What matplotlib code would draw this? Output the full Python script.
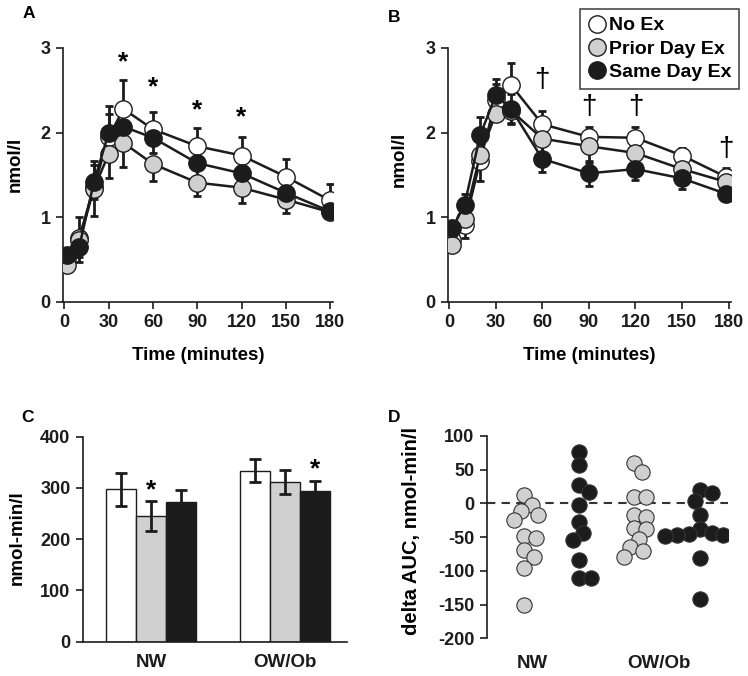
import numpy as np
import matplotlib
matplotlib.use('Agg')
import matplotlib.pyplot as plt
from matplotlib.lines import Line2D

plt.rcParams['font.family'] = ['Liberation Sans', 'DejaVu Sans']
plt.rcParams['font.weight'] = 'bold'
plt.rcParams['axes.labelweight'] = 'bold'
plt.rcParams['axes.unicode_minus'] = False

# ---- data ----
labels = ['No Ex', 'Prior Day Ex', 'Same Day Ex']

# panel A
t_a = [2, 10, 20, 30, 40, 60, 90, 120, 150, 180]
a_noex = [0.52, 0.76, 1.36, 1.95, 2.28, 2.04, 1.84, 1.73, 1.48, 1.20]
a_prior = [0.44, 0.73, 1.34, 1.75, 1.88, 1.63, 1.41, 1.35, 1.21, 1.06]
a_same = [0.55, 0.65, 1.42, 2.00, 2.07, 1.94, 1.64, 1.52, 1.29, 1.07]
a_noex_up = [0.05, 0.24, 0.30, 0.27, 0.34, 0.21, 0.21, 0.22, 0.21, 0.19]
a_prior_dn = [0.05, 0.20, 0.33, 0.29, 0.28, 0.20, 0.16, 0.18, 0.16, 0.06]
a_same_err = [0.05, 0.18, 0.20, 0.32, 0.20, 0.18, 0.16, 0.15, 0.13, 0.08]
a_star_t = [40, 60, 90, 120]
a_star_y = [2.83, 2.53, 2.26, 2.18]

# panel B
t_b = [2, 10, 20, 30, 40, 60, 90, 120, 150, 178]
b_noex = [0.73, 0.91, 1.67, 2.38, 2.56, 2.10, 1.95, 1.94, 1.73, 1.48]
b_prior = [0.67, 0.98, 1.74, 2.22, 2.26, 1.93, 1.84, 1.76, 1.57, 1.42]
b_same = [0.87, 1.15, 1.97, 2.44, 2.28, 1.69, 1.52, 1.57, 1.46, 1.28]
b_noex_up = [0.05, 0.13, 0.20, 0.20, 0.26, 0.16, 0.12, 0.13, 0.09, 0.10]
b_prior_dn = [0.05, 0.22, 0.31, 0.08, 0.15, 0.20, 0.20, 0.18, 0.15, 0.10]
b_same_err = [0.06, 0.13, 0.22, 0.19, 0.18, 0.15, 0.15, 0.13, 0.13, 0.08]
b_dag_t = [60, 90, 120, 178]
b_dag_y = [2.62, 2.30, 2.30, 1.81]

# panel C
groups = ['NW', 'OW/Ob']
c_noex = [297, 334]
c_prior = [245, 312]
c_same = [272, 294]
c_noex_se = [32, 22]
c_prior_se = [29, 24]
c_same_se = [24, 20]

# panel D (delta AUC)
nw_prior = [12, -2, -11, -17, -25, -49, -52, -69, -79, -96, -151]
nw_same = [77, 57, 27, 17, -2, -27, -44, -54, -84, -111, -111]
ow_prior = [60, 46, 10, 10, -17, -20, -37, -38, -53, -64, -70, -79]
ow_same = [20, 16, 4, -17, -38, -44, -45, -47, -47, -48, -81, -141]

INK = '#1c1c1c'
colors = ['#ffffff', '#d0d0d0', INK]
TICK = 13
LAB = 13.5

fig = plt.figure(figsize=(7.48, 6.76), dpi=100)
W, H = 748.0, 676.0


def rect(l, r, top, bot):
    return [l / W, 1 - bot / H, (r - l) / W, (bot - top) / H]


def style(ax):
    for s in ['top', 'right']:
        ax.spines[s].set_visible(False)
    for s in ['left', 'bottom']:
        ax.spines[s].set_linewidth(1.2)
        ax.spines[s].set_color(INK)
    ax.tick_params(direction='out', length=5, width=1.2, labelsize=TICK, pad=4, colors=INK)


def curve(ax, t, y, lo, hi, fc):
    ax.errorbar(t, y, yerr=[lo, hi], fmt='none', ecolor=INK, elinewidth=2,
                capsize=3, capthick=2, zorder=2)
    ax.plot(t, y, '-o', color=INK, lw=1.8, mfc=fc, mec=INK, mew=1, ms=12.5, zorder=3)


def time_panel(ax, t, series, errs, xlim):
    for y, (lo, hi), fc in zip(series, errs, colors):
        curve(ax, t, y, lo, hi, fc)
    ax.set_xlim(*xlim)
    ax.set_ylim(0, 3)
    ax.set_xticks([0, 30, 60, 90, 120, 150, 180])
    ax.set_yticks([0, 1, 2, 3])
    ax.set_xlabel('Time (minutes)', fontsize=LAB, labelpad=11)
    ax.set_ylabel('nmol/l', fontsize=LAB)
    style(ax)


z = np.zeros(10)

# A
ax_a = fig.add_axes(rect(63, 333, 48, 302))
time_panel(ax_a, t_a, [a_noex, a_prior, a_same],
           [(z, a_noex_up), (a_prior_dn, z), (a_same_err, a_same_err)], (-1, 182))
for tt, yy in zip(a_star_t, a_star_y):
    ax_a.text(tt, yy, '*', fontsize=19, ha='center', va='center')
ax_a.yaxis.set_label_coords(-0.145, 0.54)

# B
ax_b = fig.add_axes(rect(448.3, 731, 48, 302))
time_panel(ax_b, t_b, [b_noex, b_prior, b_same],
           [(z, b_noex_up), (b_prior_dn, z), (b_same_err, b_same_err)], (-0.5, 181.5))
for tt, yy in zip(b_dag_t, b_dag_y):
    ax_b.text(tt, yy, '\u2020', fontsize=20, fontweight='normal', ha='center', va='center')
ax_b.yaxis.set_label_coords(-0.142, 0.56)

handles = [Line2D([], [], ls='none', marker='o', ms=12.5, mfc=c, mec=INK, mew=1) for c in colors]
leg = ax_b.legend(handles, labels, loc='upper right', bbox_to_anchor=(739 / W, 1 - 9 / H),
                  bbox_transform=fig.transFigure, frameon=True, fancybox=False,
                  edgecolor=INK, fontsize=14, handletextpad=0.1, labelspacing=0.3,
                  borderpad=0.4, handlelength=1.0, borderaxespad=0)
leg.get_frame().set_linewidth(1.2)

# C
ax_c = fig.add_axes(rect(83, 347, 436.7, 641.7))
x = np.arange(len(groups))
bw = 0.224
for i, (vals, se, c) in enumerate(zip([c_noex, c_prior, c_same],
                                       [c_noex_se, c_prior_se, c_same_se], colors)):
    ax_c.bar(x + (i - 1) * bw, vals, bw, color=c, edgecolor=INK, lw=1, zorder=2)
    ax_c.errorbar(x + (i - 1) * bw, vals, yerr=se, fmt='none', ecolor=INK,
                  elinewidth=2, capsize=4.5, capthick=2, zorder=3)
ax_c.text(x[0], c_prior[0] + c_prior_se[0] + 22, '*', fontsize=19, ha='center', va='center')
ax_c.text(x[1] + bw, c_same[1] + c_same_se[1] + 22, '*', fontsize=19, ha='center', va='center')
ax_c.set_xlim(-0.51, 1.46)
ax_c.set_ylim(0, 400)
ax_c.set_yticks([0, 100, 200, 300, 400])
ax_c.set_xticks(x)
ax_c.set_xticklabels(groups)
style(ax_c)
ax_c.tick_params(axis='x', length=0, pad=9, labelsize=LAB)
ax_c.set_ylabel('nmol-min/l', fontsize=LAB)
ax_c.yaxis.set_label_coords(-0.215, 0.51)

# D
ax_d = fig.add_axes(rect(486.7, 728.3, 436, 638.3))
ax_d.set_xlim(-0.68, 3.71)
ax_d.set_ylim(-200, 100)
ax_d.axhline(0, color='#333333', lw=1.5, ls=(0, (4, 3)), zorder=1)


def swarm(ax, vals, center, d):
    x0, y0 = ax.transData.transform((0, 0))
    x1, y1 = ax.transData.transform((1, 1))
    sx, sy = x1 - x0, y1 - y0
    placed = []
    out = []
    for v in vals:
        ypx = v * sy
        cands = [0.0]
        for px, py in placed:
            dy = abs(py - ypx)
            if dy < d:
                dx = np.sqrt(d * d - dy * dy)
                cands += [px + dx, px - dx]
        cands.sort(key=abs)
        for c in cands:
            if all((c - px) ** 2 + (ypx - py) ** 2 >= d * d - 1e-6 for px, py in placed):
                break
        placed.append((c, ypx))
        out.append(center + c / sx)
    return out


d_sets = [(nw_prior, 0.0, colors[1]), (nw_same, 1.0, colors[2]),
          (ow_prior, 2.0, colors[1]), (ow_same, 3.2, colors[2])]
for vals, cx, c in d_sets:
    xs = swarm(ax_d, vals, cx, 12.0)
    ax_d.plot(xs, vals, 'o', ls='none', ms=11, mfc=c, mec='#333333', mew=0.8, zorder=3)

ax_d.set_yticks([-200, -150, -100, -50, 0, 50, 100])
ax_d.set_xticks([0.15, 2.45])
ax_d.set_xticklabels(groups)
style(ax_d)
ax_d.spines['bottom'].set_visible(False)
ax_d.tick_params(axis='x', length=0, pad=12, labelsize=LAB)
ax_d.set_ylabel('delta AUC, nmol-min/l', fontsize=14.5)
ax_d.yaxis.set_label_coords(-0.27, 0.53)

# panel letters
for s, px, py in [('A', 29, 14), ('B', 394, 17), ('C', 28, 417), ('D', 394, 417)]:
    fig.text(px / W, 1 - py / H, s, fontsize=12.5, ha='center', va='center')

fig.savefig('out.png', dpi=100)
